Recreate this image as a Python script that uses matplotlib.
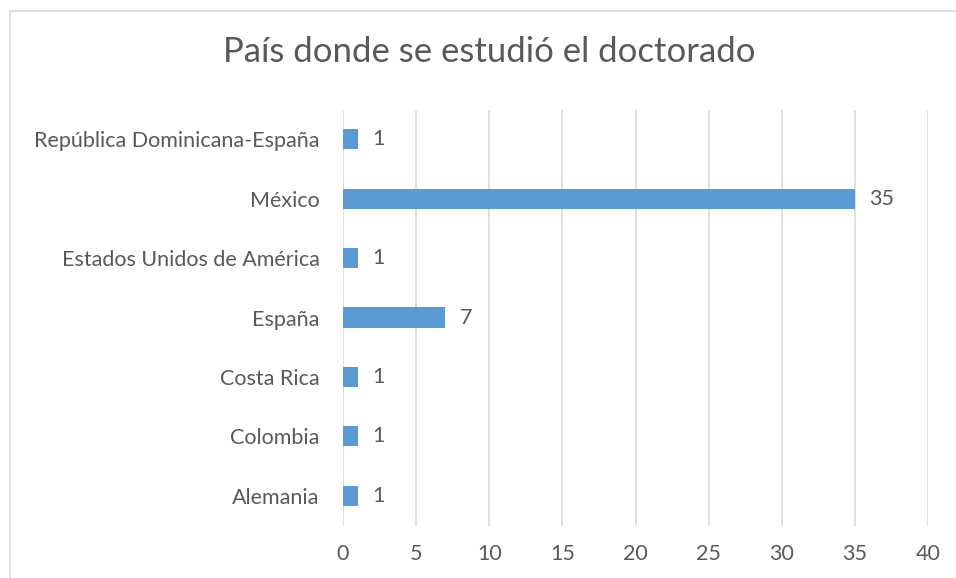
import matplotlib.pyplot as plt
from matplotlib.lines import Line2D

# doctorate country counts
countries = ['Alemania', 'Colombia', 'Costa Rica', 'España',
             'Estados Unidos de América', 'México',
             'República Dominicana-España']
counts = [1, 1, 1, 7, 1, 35, 1]
xticks = [0, 5, 10, 15, 20, 25, 30, 35, 40]

plt.rcParams['font.family'] = ['Lato', 'DejaVu Sans']
text_color = '#595959'
grid_color = '#D9D9D9'
bar_color = '#5B9BD5'

W, H = 956, 578
fig = plt.figure(figsize=(W / 100, H / 100), dpi=100)
ax = fig.add_axes([343 / W, 1 - 525.5 / H, (928 - 343) / W, (525.5 - 109.5) / H])

pos = list(range(len(countries)))
ax.barh(pos, counts, height=0.34, color=bar_color, zorder=3)
for p, c in zip(pos, counts):
    ax.text(c + 1, p, str(c), va='center', ha='left', fontsize=15.5,
            color=text_color)

ax.set_xlim(0, 40)
ax.set_ylim(-0.5, len(countries) - 0.5)
ax.set_xticks(xticks)
ax.set_yticks(pos)
ax.set_yticklabels(countries)
ax.tick_params(axis='both', length=0, labelsize=15.5, colors=text_color)
ax.tick_params(axis='x', pad=13)
ax.tick_params(axis='y', pad=17)
ax.grid(axis='x', color=grid_color, linewidth=1.2, zorder=0)
for s in ax.spines.values():
    s.set_visible(False)

fig.text(0.5 * (226 + 752) / W, 1 - 52 / H, 'País donde se estudió el doctorado',
         ha='center', va='center', fontsize=25, color=text_color)

# chart frame (top and left edges)
fig.add_artist(Line2D([9.5 / W, 9.5 / W], [0, 1 - 10.5 / H],
                      color=grid_color, linewidth=1.2))
fig.add_artist(Line2D([9.5 / W, 1], [1 - 10.5 / H, 1 - 10.5 / H],
                      color=grid_color, linewidth=1.2))

fig.savefig('out.png', dpi=100)
